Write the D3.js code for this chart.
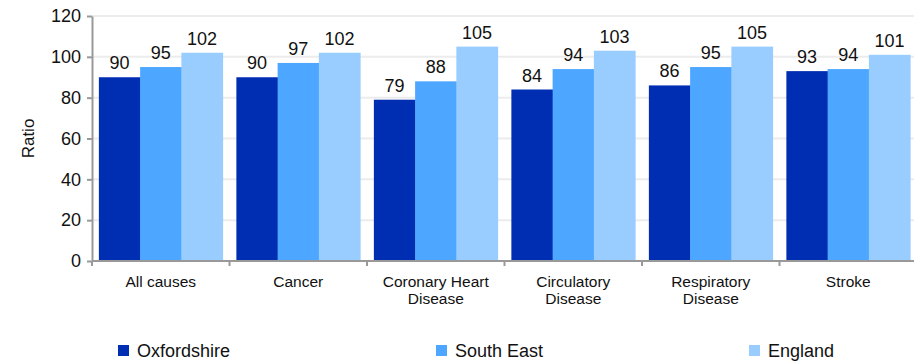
<!DOCTYPE html>
<html>
<head>
<meta charset="utf-8">
<script src="https://cdn.jsdelivr.net/npm/d3@7"></script>
<style>
    body { margin: 0; background: #fff; }
    svg { font-family: "Liberation Sans", Arial, sans-serif; }
    .grid line { stroke: #ececec; stroke-width: 2; }
    .axis path, .axis line { stroke: #999; stroke-width: 2; }
    .axis text { fill: #111; }
</style>
</head>
<body>
<svg id="mainFrame"></svg>
<script>
const categories = ['All causes', 'Cancer', 'Coronary Heart Disease', 'Circulatory Disease', 'Respiratory Disease', 'Stroke']
const categoryLines = [['All causes'], ['Cancer'], ['Coronary Heart', 'Disease'], ['Circulatory', 'Disease'], ['Respiratory', 'Disease'], ['Stroke']]
const seriesNames = ['Oxfordshire', 'South East', 'England']
const oxfordshire = [90, 90, 79, 84, 86, 93]
const southEast = [95, 97, 88, 94, 95, 94]
const england = [102, 102, 105, 103, 105, 101]
const yTicks = [0, 20, 40, 60, 80, 100, 120]
const colours = ['#002eb2', '#4da6ff', '#99ccff']

const svg = d3.select('#mainFrame')
    .attr('width', 914)
    .attr('height', 363);

const margin = { top: 16, right: -3, bottom: 102, left: 92 }
const ourWidth = 914 - margin.left - margin.right
const ourHeight = 363 - margin.top - margin.bottom

const g = svg.append('g')
    .attr('transform', `translate(${margin.left},${margin.top})`);

const yScale = d3.scaleLinear()
    .domain([0, 120])
    .range([ourHeight, 0]);

const xScale = d3.scaleBand()
    .domain(categories)
    .range([0, ourWidth])
    .paddingInner(0.1)
    .paddingOuter(0.05);

const innerScale = d3.scaleBand()
    .domain(seriesNames)
    .range([0, xScale.bandwidth()]);

// gridlines
g.append('g')
    .attr('class', 'grid')
    .selectAll('line')
    .data(yTicks.filter(d => d > 0))
    .join('line')
    .attr('x1', 0)
    .attr('x2', ourWidth)
    .attr('y1', d => yScale(d))
    .attr('y2', d => yScale(d));

const data = seriesNames.map((name, i) => ({
    name,
    colour: colours[i],
    values: [oxfordshire, southEast, england][i]
}))

const seriesGroup = g.selectAll('g.series')
    .data(data)
    .join('g')
    .attr('class', 'series')
    .attr('fill', d => d.colour);

seriesGroup.selectAll('rect')
    .data(d => d.values.map((v, j) => ({ name: d.name, cat: categories[j], value: v })))
    .join('rect')
    .attr('x', d => xScale(d.cat) + innerScale(d.name))
    .attr('width', innerScale.bandwidth() + 0.5)
    .attr('y', d => yScale(d.value))
    .attr('height', d => ourHeight - yScale(d.value));

seriesGroup.selectAll('text')
    .data(d => d.values.map((v, j) => ({ name: d.name, cat: categories[j], value: v })))
    .join('text')
    .attr('x', d => xScale(d.cat) + innerScale(d.name) + innerScale.bandwidth() / 2)
    .attr('y', d => yScale(d.value) - 8)
    .attr('text-anchor', 'middle')
    .attr('fill', '#111')
    .attr('font-size', 18)
    .text(d => d.value);

// y axis
const yAxis = d3.axisLeft(yScale)
    .tickValues(yTicks)
    .tickSize(5)
    .tickSizeOuter(0)
    .tickPadding(6);

g.append('g')
    .attr('class', 'axis')
    .call(yAxis)
    .selectAll('text')
    .attr('font-size', 18);

// x axis with ticks at category boundaries
const step = xScale.step()
const xStart = xScale(categories[0]) - xScale.paddingInner() * step / 2
const xAxisGroup = g.append('g')
    .attr('class', 'axis')
    .attr('transform', `translate(0,${ourHeight})`);

xAxisGroup.append('line')
    .attr('x1', 0)
    .attr('x2', ourWidth);

xAxisGroup.selectAll('line.tick')
    .data(d3.range(categories.length + 1))
    .join('line')
    .attr('class', 'tick')
    .attr('x1', i => xStart + i * step)
    .attr('x2', i => xStart + i * step)
    .attr('y1', 0)
    .attr('y2', 5);

xAxisGroup.selectAll('text')
    .data(categoryLines)
    .join('text')
    .attr('font-size', 15.5)
    .attr('fill', '#111')
    .attr('text-anchor', 'middle')
    .attr('transform', (d, i) => `translate(${xScale(categories[i]) + xScale.bandwidth() / 2},26)`)
    .selectAll('tspan')
    .data(d => d)
    .join('tspan')
    .attr('x', 0)
    .attr('dy', (d, i) => i === 0 ? 0 : 17)
    .text(d => d);

// y label
svg.append('text')
    .attr('transform', `translate(34,${margin.top + ourHeight / 2}) rotate(-90)`)
    .attr('text-anchor', 'middle')
    .attr('font-size', 17)
    .attr('fill', '#111')
    .text('Ratio');

// legend
const legendX = [118, 436, 749]
const legend = svg.append('g')
    .selectAll('g')
    .data(data)
    .join('g')
    .attr('transform', (d, i) => `translate(${legendX[i]},345)`);

legend.append('rect')
    .attr('width', 11)
    .attr('height', 11)
    .attr('fill', d => d.colour);

legend.append('text')
    .attr('x', 19)
    .attr('y', 12)
    .attr('font-size', 18)
    .attr('fill', '#111')
    .text(d => d.name);
</script>
</body>
</html>
